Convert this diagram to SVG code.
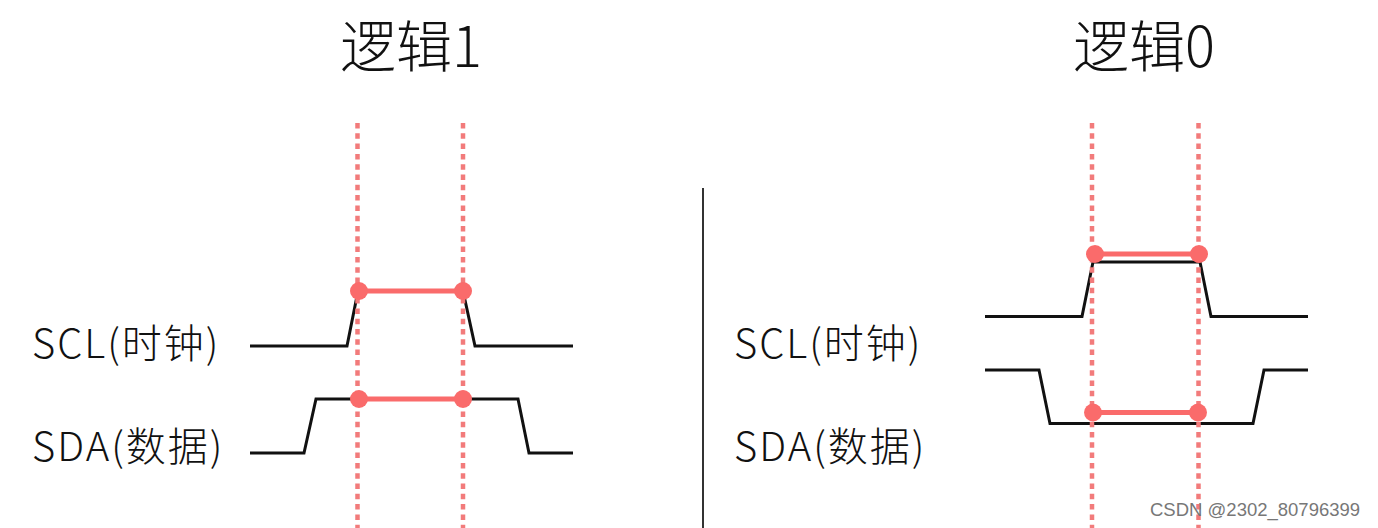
<svg xmlns="http://www.w3.org/2000/svg" width="1378" height="528" viewBox="0 0 1378 528">
<style>
.t{font-family:"Noto Sans CJK SC","Liberation Sans",sans-serif;font-weight:300;fill:#111}
.title{font-size:56px;text-anchor:middle}
.lbl{font-size:40px;letter-spacing:2px}
.wave{fill:none;stroke:#111;stroke-width:3;stroke-linejoin:miter}
.guide{stroke:#f27b7b;stroke-width:4.5;stroke-dasharray:5.5 4.8}
.hold{stroke:#fa6b6b;stroke-width:5}
.dot{fill:#fa6b6b}
.div{stroke:#333;stroke-width:2}
.wm{font-family:"Liberation Sans",sans-serif;font-size:18.5px;fill:#777}
</style>
<rect width="1378" height="528" fill="#fff"/>
<g id="title-logic1"><text class="t title" x="411" y="67">逻辑1</text></g>
<g id="title-logic0"><text class="t title" x="1144" y="67">逻辑0</text></g>
<g id="divider"><line class="div" x1="703" y1="188" x2="703" y2="528"/></g>
<g id="labels-left">
<text class="t lbl" x="32" y="358">SCL(时钟)</text>
<text class="t lbl" x="32" y="461">SDA(数据)</text>
</g>
<g id="labels-right">
<text class="t lbl" x="734" y="358">SCL(时钟)</text>
<text class="t lbl" x="734" y="461">SDA(数据)</text>
</g>
<g id="waves">
<polyline id="scl1" class="wave" points="250,346 347,346 358,291 463,291 475,346 573,346"/>
<polyline id="sda1" class="wave" points="250,453 304,453 316,399 518,399 529,453 573,453"/>
<polyline id="scl0" class="wave" points="985,316.5 1082,316.5 1093,262 1200,262 1211,316.5 1308,316.5"/>
<polyline id="sda0" class="wave" points="985,370 1039,370 1050,423.5 1253,423.5 1264,370 1308,370"/>
</g>
<g id="guides">
<line class="guide" x1="357.5" y1="123" x2="357.5" y2="528"/>
<line class="guide" x1="463" y1="123" x2="463" y2="528"/>
<line class="guide" x1="1092" y1="123" x2="1092" y2="528"/>
<line class="guide" x1="1198.5" y1="123" x2="1198.5" y2="528"/>
</g>
<g id="holds">
<line class="hold" x1="359" y1="291" x2="463" y2="291"/>
<circle class="dot" cx="359" cy="291" r="9"/><circle class="dot" cx="463" cy="291" r="9"/>
<line class="hold" x1="359" y1="399" x2="463" y2="399"/>
<circle class="dot" cx="359" cy="399" r="9"/><circle class="dot" cx="463" cy="399" r="9"/>
<line class="hold" x1="1095" y1="254" x2="1199" y2="254"/>
<circle class="dot" cx="1095" cy="254" r="9"/><circle class="dot" cx="1199" cy="254" r="9"/>
<line class="hold" x1="1093" y1="412.5" x2="1198" y2="412.5"/>
<circle class="dot" cx="1093" cy="412.5" r="9"/><circle class="dot" cx="1198" cy="412.5" r="9"/>
</g>
<g id="watermark"><text class="wm" x="1150" y="516">CSDN @2302_80796399</text></g>
</svg>
